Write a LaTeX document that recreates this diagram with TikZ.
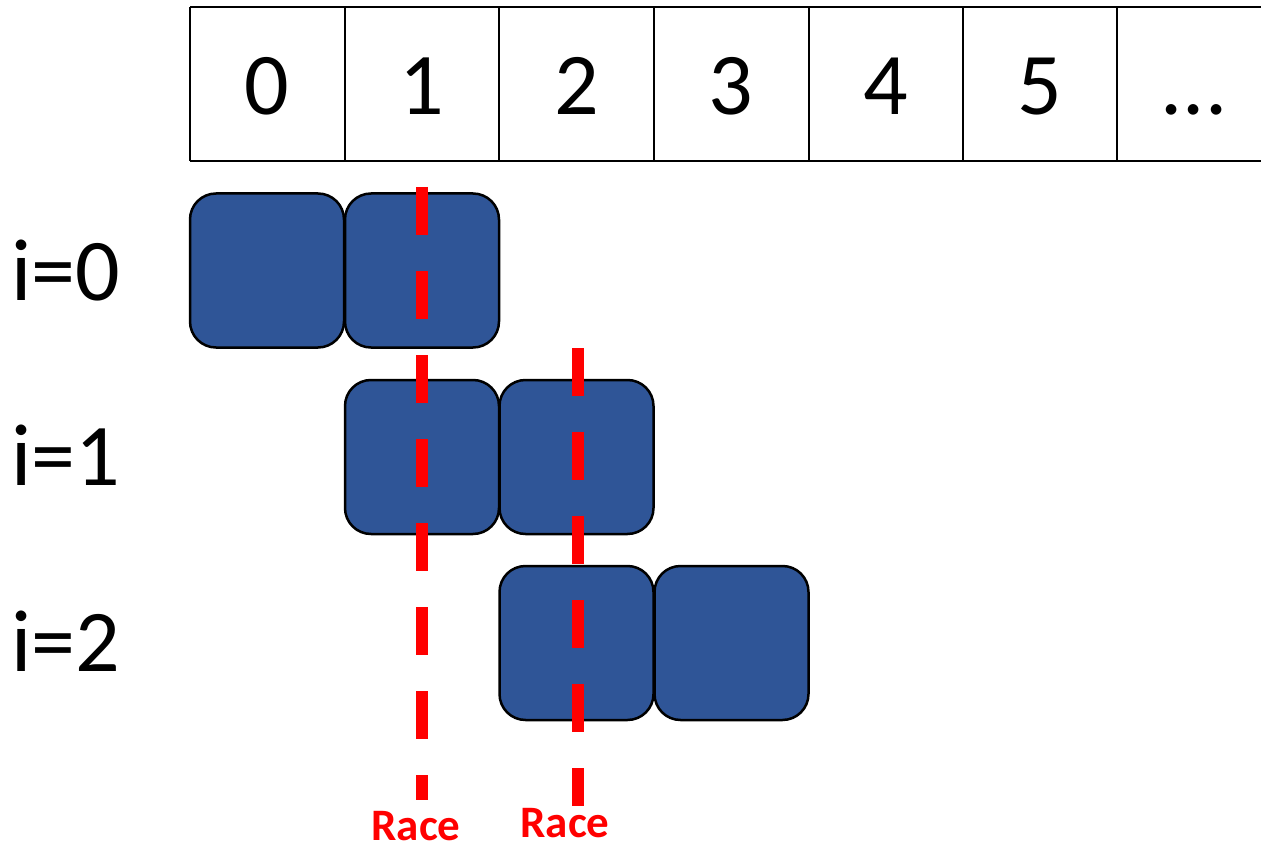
\documentclass[tikz,border=0pt]{standalone}
\usepackage{fontspec}
\setmainfont{Carlito}
\definecolor{blockblue}{HTML}{2F5597}
\definecolor{racered}{HTML}{FF0000}
\tikzset{
  cellline/.style={line width=2.5pt, black},
  digit/.style={font=\fontsize{88}{100}\selectfont, anchor=base, inner sep=0pt},
  rowlabel/.style={font=\fontsize{88}{100}\selectfont, anchor=base, inner sep=0pt},
  block/.style={draw=black, line width=2.5pt, fill=blockblue, rounded corners=26pt,
     minimum width=154pt, minimum height=154pt, inner sep=0pt},
  raceline/.style={racered, line width=12pt, dash pattern=on 48pt off 36pt},
  racelabel/.style={racered, font=\bfseries\fontsize{45}{50}\selectfont, anchor=base,
     inner sep=0pt, text depth=0pt}
}
\begin{document}
\begin{tikzpicture}[x=1pt, y=-1pt]
\useasboundingbox (0,0) rectangle (1261,845);
% header row
\draw[cellline] (190,7) -- (1261,7);
\draw[cellline] (190,161) -- (1261,161);
\foreach \xx in {190,345,499,654,809,963,1117} {
  \draw[cellline] (\xx,7) -- (\xx,161);
}
\node[digit] (h0) at (267,115) {0};
\node[digit] (h1) at (422,115) {1};
\node[digit] (h2) at (577,115) {2};
\node[digit] (h3) at (731,115) {3};
\node[digit] (h4) at (886,115) {4};
\node[digit] (h5) at (1040,115) {5};
\node[digit] (hd) at (1194,115) {...};
% row labels
\node[rowlabel] (r0) at (66,300) {i=0};
\node[rowlabel] (r1) at (66,485) {i=1};
\node[rowlabel] (r2) at (66,671) {i=2};
% blocks
\node[block] (b00) at (267,270.5) {};
\node[block] (b01) at (422,270.5) {};
\node[block] (b11) at (422,457) {};
\node[block] (b12) at (576.5,457) {};
\node[block] (b22) at (576.5,643) {};
\node[block] (b23) at (731.5,643) {};
% race lines
\coordinate (ra1) at (422,187);
\coordinate (rb1) at (422,800);
\coordinate (ra2) at (578,348);
\coordinate (rb2) at (578,806);
\draw[raceline] (ra1) -- (rb1);
\draw[raceline] (ra2) -- (rb2);
\node[racelabel] (race1) at (416,840) {Race};
\node[racelabel] (race2) at (565,837) {Race};
\end{tikzpicture}
\end{document}
